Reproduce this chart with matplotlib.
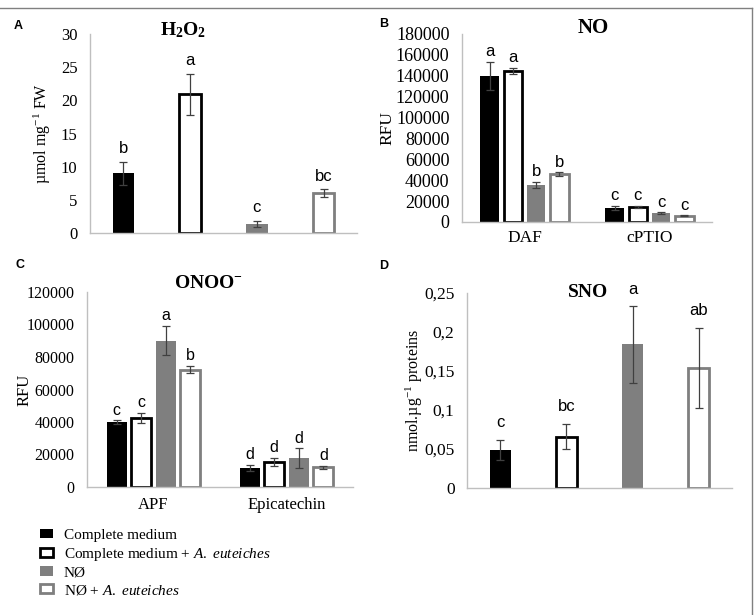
import numpy as np
import matplotlib.pyplot as plt
from matplotlib.patches import Patch
from matplotlib.lines import Line2D

# ---- data ----
treatments = ["Complete medium", "Complete medium + A. euteiches", "NØ", "NØ + A. euteiches"]

h2o2_vals = [9.0, 20.9, 1.4, 6.0]
h2o2_err = [1.7, 3.1, 0.45, 0.6]
h2o2_letters = ["b", "a", "c", "bc"]

no_groups = ["DAF", "cPTIO"]
no_vals = [[140000, 13400], [144300, 14400], [35400, 8600], [45600, 6000]]
no_err = [[13500, 1700], [3000, 700], [3000, 500], [1800, 300]]
no_letters = [["a", "c"], ["a", "c"], ["b", "c"], ["b", "c"]]

onoo_groups = ["APF", "Epicatechin"]
onoo_vals = [[40000, 11700], [42400, 15400], [90000, 17800], [72200, 12100]]
onoo_err = [[1000, 2000], [3300, 2500], [9000, 6000], [2300, 800]]
onoo_letters = [["c", "d"], ["c", "d"], ["a", "d"], ["b", "d"]]

sno_vals = [0.049, 0.066, 0.184, 0.154]
sno_err = [0.013, 0.016, 0.049, 0.051]
sno_letters = ["c", "bc", "a", "ab"]
sno_ticks = [0, 0.05, 0.1, 0.15, 0.2, 0.25]
sno_ticklabels = ["0", "0,05", "0,1", "0,15", "0,2", "0,25"]

# ---- style ----
SERIF = "Liberation Serif"
SANS = "Liberation Sans"
plt.rcParams["font.family"] = SERIF
plt.rcParams["mathtext.fontset"] = "custom"
plt.rcParams["mathtext.rm"] = SERIF
plt.rcParams["mathtext.it"] = SERIF + ":italic"
plt.rcParams["mathtext.bf"] = SERIF + ":bold"

GRAY = "#7f7f7f"
AXIS = "#bfbfbf"
ERR = "#404040"
styles = [
    dict(facecolor="black", edgecolor="none", linewidth=0),
    dict(facecolor="white", edgecolor="black", linewidth=2.0),
    dict(facecolor=GRAY, edgecolor="none", linewidth=0),
    dict(facecolor="white", edgecolor=GRAY, linewidth=2.0),
]

W, H = 754, 615
fig = plt.figure(figsize=(W / 100, H / 100), dpi=100)


def px_axes(left, right, top, bottom):
    return fig.add_axes([left / W, 1 - bottom / H, (right - left) / W, (bottom - top) / H])


def style_axes(ax, size=11):
    for s in ["top", "right"]:
        ax.spines[s].set_visible(False)
    for s in ["left", "bottom"]:
        ax.spines[s].set_color(AXIS)
        ax.spines[s].set_linewidth(1.0)
    ax.tick_params(length=0, labelsize=size, pad=9)
    ax.tick_params(axis="x", pad=7)


def letter(ax, x, y, txt, off=4, size=11):
    ax.annotate(txt, (x, y), xytext=(0, off), textcoords="offset points",
                ha="center", va="bottom", fontsize=size, family=SANS)


def single_panel(ax, vals, errs, letters, off=4, size=11):
    x = np.arange(len(vals))
    for i in range(len(vals)):
        ax.bar(x[i], vals[i], width=0.32, **styles[i], zorder=2)
        ax.errorbar(x[i], vals[i], yerr=errs[i], color=ERR, lw=0.9,
                    capsize=3, capthick=0.9, zorder=3)
        letter(ax, x[i], vals[i] + errs[i], letters[i], off, size)
    ax.set_xlim(-0.5, 3.5)
    ax.set_xticks([])


def grouped_panel(ax, groups, vals, errs, letters, size=11):
    x = np.arange(len(groups))
    step, w = 0.185, 0.15
    for i in range(len(vals)):
        xs = x + (i - 1.5) * step
        ax.bar(xs, vals[i], width=w, **styles[i], zorder=2)
        ax.errorbar(xs, vals[i], yerr=errs[i], fmt="none", ecolor=ERR,
                    elinewidth=0.9, capsize=3, capthick=0.9, zorder=3)
        for j in range(len(groups)):
            letter(ax, xs[j], vals[i][j] + errs[i][j], letters[i][j], 2, size)
    ax.set_xlim(-0.5, 1.5)
    ax.set_xticks(x)
    ax.set_xticklabels(groups)


# A: H2O2
axA = px_axes(90, 357, 34, 233)
single_panel(axA, h2o2_vals, h2o2_err, h2o2_letters, size=12)
axA.set_ylim(0, 30)
axA.set_yticks(range(0, 31, 5))
style_axes(axA, 12)
axA.set_ylabel("µmol mg$^{-1}$ FW", fontsize=11.5)
axA.yaxis.set_label_coords(-0.14, 0.5)
axA.text(0.348, 1.02, r"H$_\mathbf{2}$O$_\mathbf{2}$", transform=axA.transAxes,
         ha="center", va="center", fontsize=14, fontweight="bold")

# B: NO
axB = px_axes(462, 712, 34, 222)
grouped_panel(axB, no_groups, no_vals, no_err, no_letters, size=12)
axB.set_ylim(0, 180000)
axB.set_yticks(range(0, 180001, 20000))
style_axes(axB, 13)
axB.tick_params(axis="x", labelsize=12.5, pad=6)
axB.set_ylabel("RFU", fontsize=12.5)
axB.yaxis.set_label_coords(-0.265, 0.5)
axB.text(0.524, 1.034, "NO", transform=axB.transAxes,
         ha="center", va="center", fontsize=15, fontweight="bold")

# C: ONOO-
axC = px_axes(87, 353, 292, 487)
grouped_panel(axC, onoo_groups, onoo_vals, onoo_err, onoo_letters, size=11.5)
axC.set_ylim(0, 120000)
axC.set_yticks(range(0, 120001, 20000))
style_axes(axC, 11.5)
axC.tick_params(axis="x", labelsize=12)
axC.set_ylabel("RFU", fontsize=12)
axC.yaxis.set_label_coords(-0.205, 0.5)
axC.text(0.456, 1.045, r"ONOO$^\mathbf{-}$", transform=axC.transAxes,
         ha="center", va="center", fontsize=14, fontweight="bold")

# D: SNO
axD = px_axes(467, 732, 293, 488)
single_panel(axD, sno_vals, sno_err, sno_letters, off=7, size=12)
axD.set_ylim(0, 0.25)
axD.set_yticks(sno_ticks)
axD.set_yticklabels(sno_ticklabels)
style_axes(axD, 12.5)
axD.set_ylabel("nmol.µg$^{-1}$ proteins", fontsize=11.5)
axD.yaxis.set_label_coords(-0.16, 0.5)
axD.text(0.456, 1.0, "SNO", transform=axD.transAxes,
         ha="center", va="center", fontsize=14, fontweight="bold")

# panel letters
for lab, (px, py) in {"A": (18, 26), "B": (384, 24), "C": (20, 265), "D": (384, 266)}.items():
    fig.text(px / W, 1 - py / H, lab, family=SANS, fontweight="bold",
             fontsize=9, ha="center", va="center")

# legend
labels = ["Complete medium", r"Complete medium + $\it{A.}$ $\it{euteiches}$", "NØ",
          r"NØ + $\it{A.}$ $\it{euteiches}$"]
handles = [Patch(**s) for s in styles]
fig.legend(handles, labels, loc="upper left", bbox_to_anchor=(40 / W, 1 - 529 / H),
           frameon=False, fontsize=11, handlelength=0.85, handleheight=0.55,
           handletextpad=0.7, labelspacing=0.24, borderpad=0, borderaxespad=0)

# outer frame lines (top and right)
fig.add_artist(Line2D([0, 752 / W], [1 - 8 / H, 1 - 8 / H], color="#808080", lw=1))
fig.add_artist(Line2D([752 / W, 752 / W], [1 - 8 / H, 0], color="#808080", lw=1))

fig.savefig("out.png", dpi=100, facecolor="white")
